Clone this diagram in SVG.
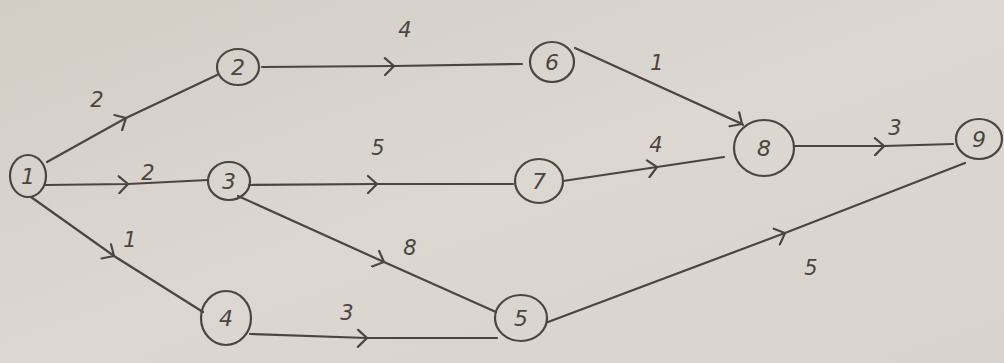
<svg xmlns="http://www.w3.org/2000/svg" width="1004" height="363" viewBox="0 0 1004 363">
<defs>
<linearGradient id="bg" x1="0" y1="0" x2="1" y2="1">
<stop offset="0" stop-color="#d3cdc6"/>
<stop offset="0.5" stop-color="#dcd7d1"/>
<stop offset="1" stop-color="#d8d3cd"/>
</linearGradient>
<marker id="chev" viewBox="-12 -10 14 20" markerWidth="14" markerHeight="20" refX="0" refY="0" orient="auto" markerUnits="userSpaceOnUse">
<path d="M-9,-8 L0,0 L-9,9" fill="none" stroke="#4b4540" stroke-width="2.2" stroke-linecap="round"/>
</marker>
<style>
.e{fill:none;stroke:#4b4540;stroke-width:2.2;stroke-linecap:round;marker-mid:url(#chev)}
.n ellipse{fill:none;stroke:#4b4540;stroke-width:2.2}
.n text{font-family:"DejaVu Sans",sans-serif;font-size:22px;font-style:italic;fill:#4b4540;text-anchor:middle;dominant-baseline:central}
.l{font-family:"DejaVu Sans",sans-serif;font-size:21px;font-style:italic;fill:#4b4540;text-anchor:middle;dominant-baseline:central}
</style>
</defs>
<rect width="1004" height="363" fill="url(#bg)"/>
<g id="connectors">
<path class="e" d="M47,162 L126,118 L217,75"/>
<path class="e" d="M45,185 L128,184 L208,180"/>
<path class="e" d="M31,197 L114,256 L203,312"/>
<path class="e" d="M262,67 L394,66 L522,64"/>
<path class="e" d="M249,185 L377,184 L513,184"/>
<path class="e" d="M238,196 L384,262 L496,312"/>
<path class="e" d="M250,334 L367,338 L497,338"/>
<path class="e" d="M575,48 L742,124 L743,125"/>
<path class="e" d="M563,181 L657,167 L724,157"/>
<path class="e" d="M795,146 L884,146 L953,144"/>
<path class="e" d="M548,322 L785,233 L965,163"/>
<text class="l" x="97" y="100">2</text>
<text class="l" x="148" y="173">2</text>
<text class="l" x="130" y="240">1</text>
<text class="l" x="405" y="30">4</text>
<text class="l" x="378" y="148">5</text>
<text class="l" x="410" y="248">8</text>
<text class="l" x="347" y="313">3</text>
<text class="l" x="657" y="63">1</text>
<text class="l" x="656" y="145">4</text>
<text class="l" x="895" y="128">3</text>
<text class="l" x="811" y="268">5</text>
</g>
<g id="n1" class="n"><ellipse cx="28" cy="176" rx="18" ry="21"/><text x="28" y="176">1</text></g>
<g id="n2" class="n"><ellipse cx="238" cy="67" rx="21" ry="18"/><text x="238" y="67">2</text></g>
<g id="n3" class="n"><ellipse cx="229" cy="181" rx="21" ry="19"/><text x="229" y="181">3</text></g>
<g id="n4" class="n"><ellipse cx="226" cy="318" rx="25" ry="27"/><text x="226" y="318">4</text></g>
<g id="n5" class="n"><ellipse cx="521" cy="318" rx="26" ry="23"/><text x="521" y="318">5</text></g>
<g id="n6" class="n"><ellipse cx="552" cy="62" rx="22" ry="20"/><text x="552" y="62">6</text></g>
<g id="n7" class="n"><ellipse cx="539" cy="181" rx="24" ry="22"/><text x="539" y="181">7</text></g>
<g id="n8" class="n"><ellipse cx="764" cy="148" rx="30" ry="28"/><text x="764" y="148">8</text></g>
<g id="n9" class="n"><ellipse cx="979" cy="139" rx="23" ry="20"/><text x="979" y="139">9</text></g>
</svg>
